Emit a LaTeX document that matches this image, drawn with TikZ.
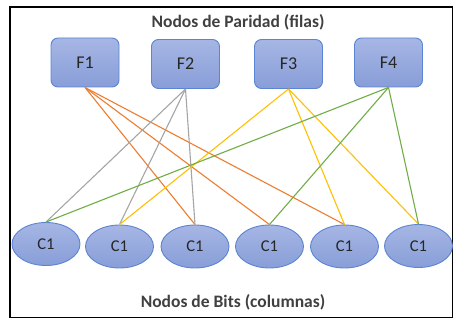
\documentclass[tikz,border=0pt]{standalone}
\usepackage{fontspec}
\setmainfont{Carlito}
\usetikzlibrary{shapes.geometric}
\definecolor{nodeedge}{RGB}{91,132,210}
\definecolor{nodetop}{RGB}{166,182,228}
\definecolor{nodebot}{RGB}{136,158,216}
\definecolor{lnorange}{RGB}{237,125,49}
\definecolor{lngray}{RGB}{165,165,165}
\definecolor{lnyellow}{RGB}{255,192,0}
\definecolor{lngreen}{RGB}{112,173,71}
\definecolor{txtdark}{RGB}{38,38,38}
\definecolor{titlegray}{RGB}{64,64,64}
\tikzset{
  parity/.style={draw=nodeedge, line width=0.9pt, top color=nodetop, bottom color=nodebot,
    rounded corners=7pt, minimum width=68pt, minimum height=49pt, inner sep=0pt,
    font=\fontsize{18}{20}\selectfont, text=txtdark},
  bitnode/.style={ellipse, draw=nodeedge, line width=0.9pt, top color=nodetop, bottom color=nodebot,
    minimum width=68pt, minimum height=43pt, inner sep=0pt,
    font=\fontsize{16.5}{18}\selectfont, text=txtdark},
  heading/.style={font=\bfseries\fontsize{17.5}{19}\selectfont, text=titlegray},
  link/.style={line width=1.1pt}
}
\begin{document}
\begin{tikzpicture}[x=1pt, y=-1pt]
\useasboundingbox (0,0) rectangle (454,323);
\draw[line width=1.8pt] (10,7) rectangle (452.5,317.5);

\node[heading] (top) at (238,22) {Nodos de Paridad (filas)};
\node[heading] (bottom) at (233,302) {Nodos de Bits (columnas)};

\node[parity] (f1) at (85,62.5) {F1};
\node[parity] (f2) at (185.5,64) {F2};
\node[parity] (f3) at (288.5,64) {F3};
\node[parity] (f4) at (388.5,62.5) {F4};

\node[bitnode] (c1) at (46,244) {C1};
\node[bitnode] (c2) at (119.5,246.5) {C1};
\node[bitnode] (c3) at (195,246.5) {C1};
\node[bitnode] (c4) at (269.5,246.5) {C1};
\node[bitnode] (c5) at (344.5,246.5) {C1};
\node[bitnode] (c6) at (418.5,246) {C1};

\foreach \c in {c3,c4,c5} \draw[link, lnorange] (f1.south) -- (\c.north);
\foreach \c in {c1,c2,c3} \draw[link, lngray] (f2.south) -- (\c.north);
\foreach \c in {c2,c5,c6} \draw[link, lnyellow] (f3.south) -- (\c.north);
\foreach \c in {c1,c4,c6} \draw[link, lngreen] (f4.south) -- (\c.north);
\end{tikzpicture}
\end{document}
